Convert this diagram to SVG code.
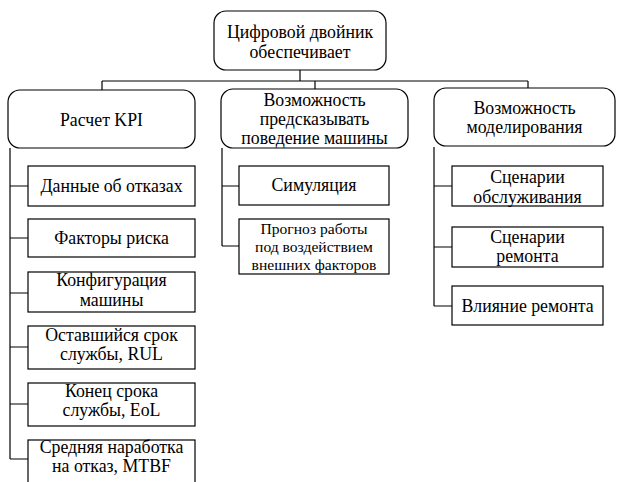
<svg xmlns="http://www.w3.org/2000/svg" width="617" height="482" viewBox="0 0 617 482">
<style>
.n{fill:#fff;stroke:#000;stroke-width:1.2}
.c{fill:none;stroke:#000;stroke-width:1.2}
.t{font-family:'Liberation Serif',serif;font-size:17.8px;fill:#000;text-anchor:middle}
.s{font-size:15.6px}
</style>
<rect width="617" height="482" fill="#fff"/>
<g id="connectors">
<path class="c" d="M300 70V81M102 81H528M102 81V90M315 81V89M528 81V88"/>
<path class="c" d="M10 148V459M10 186H28M10 238H28M10 293H28M10 347H28M10 404H28M10 459H28"/>
<path class="c" d="M222 148V246M222 186H239M222 246H239"/>
<path class="c" d="M434 147V306M434 186H452M434 247H452M434 306H452"/>
</g>
<g id="root"><rect class="n" x="214" y="11" width="172" height="59" rx="12"/>
<text class="t" x="300" y="38">Цифровой двойник</text><text class="t" x="300" y="58">обеспечивает</text></g>
<g id="kpi"><rect class="n" x="8" y="90" width="187" height="58" rx="12"/>
<text class="t" x="101.5" y="126">Расчет KPI</text></g>
<g id="predict"><rect class="n" x="221" y="89" width="187" height="59" rx="12"/>
<text class="t" x="314.5" y="106">Возможность</text><text class="t" x="314.5" y="125">предсказывать</text><text class="t" x="314.5" y="144">поведение машины</text></g>
<g id="model"><rect class="n" x="434" y="88" width="181" height="58" rx="12"/>
<text class="t" x="524.5" y="114">Возможность</text><text class="t" x="524.5" y="133">моделирования</text></g>
<g id="k1"><rect class="n" x="28" y="166" width="167" height="40"/><text class="t" x="111.5" y="192">Данные об отказах</text></g>
<g id="k2"><rect class="n" x="28" y="219" width="167" height="38"/><text class="t" x="111.5" y="244">Факторы риска</text></g>
<g id="k3"><rect class="n" x="28" y="272" width="167" height="40"/><text class="t" x="111.5" y="286">Конфигурация</text><text class="t" x="111.5" y="306">машины</text></g>
<g id="k4"><rect class="n" x="28" y="326" width="167" height="43"/><text class="t" x="111.5" y="341">Оставшийся срок</text><text class="t" x="111.5" y="360">службы, RUL</text></g>
<g id="k5"><rect class="n" x="28" y="383" width="167" height="43"/><text class="t" x="111.5" y="397">Конец срока</text><text class="t" x="111.5" y="416">службы, EoL</text></g>
<g id="k6"><rect class="n" x="28" y="440" width="167" height="50"/><text class="t" x="111.5" y="453">Средняя наработка</text><text class="t" x="111.5" y="472">на отказ, MTBF</text></g>
<g id="p1"><rect class="n" x="239" y="166" width="150" height="39"/><text class="t" x="314" y="191">Симуляция</text></g>
<g id="p2"><rect class="n" x="239" y="219" width="150" height="55"/><text class="t s" x="314" y="234">Прогноз работы</text><text class="t s" x="314" y="252">под воздействием</text><text class="t s" x="314" y="270">внешних факторов</text></g>
<g id="m1"><rect class="n" x="452" y="166" width="151" height="40"/><text class="t" x="527.5" y="183">Сценарии</text><text class="t" x="527.5" y="203">обслуживания</text></g>
<g id="m2"><rect class="n" x="452" y="227" width="151" height="40"/><text class="t" x="527.5" y="243">Сценарии</text><text class="t" x="527.5" y="262">ремонта</text></g>
<g id="m3"><rect class="n" x="452" y="286" width="151" height="39"/><text class="t" x="527.5" y="312">Влияние ремонта</text></g>
</svg>
